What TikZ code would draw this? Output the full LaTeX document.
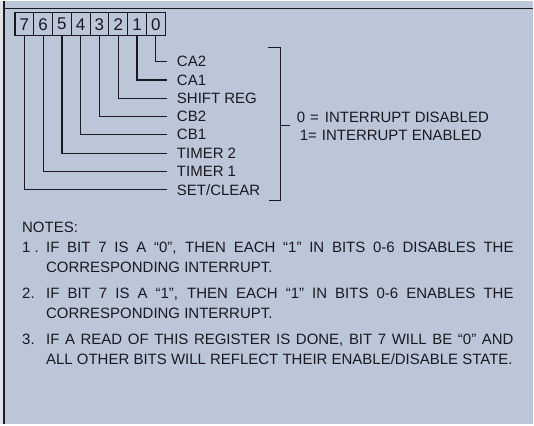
\documentclass[tikz,border=0pt]{standalone}
\usepackage{fontspec}
\setmainfont{Liberation Sans}
\usepackage{xcolor}
\usepackage{tikz}
\usetikzlibrary{positioning}

\definecolor{panelblue}{RGB}{187,198,217}
\definecolor{edgegrey}{RGB}{224,226,230}
\definecolor{inkgrey}{RGB}{26,26,30}

\begin{document}
\begin{tikzpicture}[x=1pt, y=-1pt, text=inkgrey,
        bitbox/.style={draw=inkgrey, line width=1.1pt, minimum width=18.8pt,
            minimum height=22.5pt, inner sep=0pt, font=\fontsize{17}{17}\selectfont},
        bitlabel/.style={anchor=west, inner sep=0pt, font=\fontsize{15}{15}\selectfont},
        wire/.style={draw=inkgrey, line width=1.2pt},
        notehead/.style={anchor=west, inner sep=0pt, font=\fontsize{15}{15}\selectfont},
        notetext/.style={anchor=north west, inner sep=0pt, text width=468pt,
            align=justify, font=\fontsize{15}{19.5}\selectfont}]
        % panel and frame
        \fill[panelblue] (0,0) rectangle (534,424);
        \fill[edgegrey] (0,0) rectangle (3,424);
        \draw[inkgrey, line width=1.6pt] (4,0) -- (4,424);
        \draw[inkgrey, line width=1.4pt] (4,8) -- (534,8);

        % register bits
        \foreach \b [count=\k from 0] in {7,6,5,4,3,2,1,0}
            \node[bitbox] (bit\b) at (24.4+18.8*\k, 23.4) {\b};

        % bit names
        \foreach \b/\txt [count=\k from 0] in {0/CA2, 1/CA1, 2/SHIFT REG, 3/CB2,
                4/CB1, 5/TIMER 2, 6/TIMER 1, 7/{SET/CLEAR}}
            \node[bitlabel] (name\b) at (177, 61+18.3*\k) {\txt};

        \foreach \b in {0,...,7}
            \draw[wire] (bit\b.south) |- ([xshift=-10pt]name\b.west);

        % bracket and meaning
        \coordinate (brtop) at (268,47);
        \coordinate (brbot) at (269,200);
        \coordinate (brmid) at (281,125);
        \draw[wire] (brtop) -| (brmid) |- (brbot);
        \draw[wire] (brmid) -- ++(9,0);
        \node[bitlabel] (off) at (297,117) {0\hspace{5pt}=\hspace{6pt}INTERRUPT DISABLED};
        \node[bitlabel] (on) at (300,135) {1=\hspace{5pt}INTERRUPT ENABLED};

        % notes
        \node[notehead] (notes) at (22,227) {NOTES:};
        \node[notehead] (n1) at (22,247) {1 .};
        \node[notetext] (t1) at (46,241.5) {IF BIT 7 IS A ``0'', THEN EACH ``1'' IN BITS 0-6 DISABLES THE\linebreak
            CORRESPONDING INTERRUPT.};
        \node[notehead] (n2) at (22,293) {2.};
        \node[notetext] (t2) at (46,287.5) {IF BIT 7 IS A ``1'', THEN EACH ``1'' IN BITS 0-6 ENABLES THE\linebreak
            CORRESPONDING INTERRUPT.};
        \node[notehead] (n3) at (22,339) {3.};
        \node[notetext] (t3) at (46,333.5) {IF A READ OF THIS REGISTER IS DONE, BIT 7 WILL BE ``0'' AND\linebreak
            ALL OTHER BITS WILL REFLECT THEIR ENABLE/DISABLE STATE.};
    \end{tikzpicture}
\end{document}
